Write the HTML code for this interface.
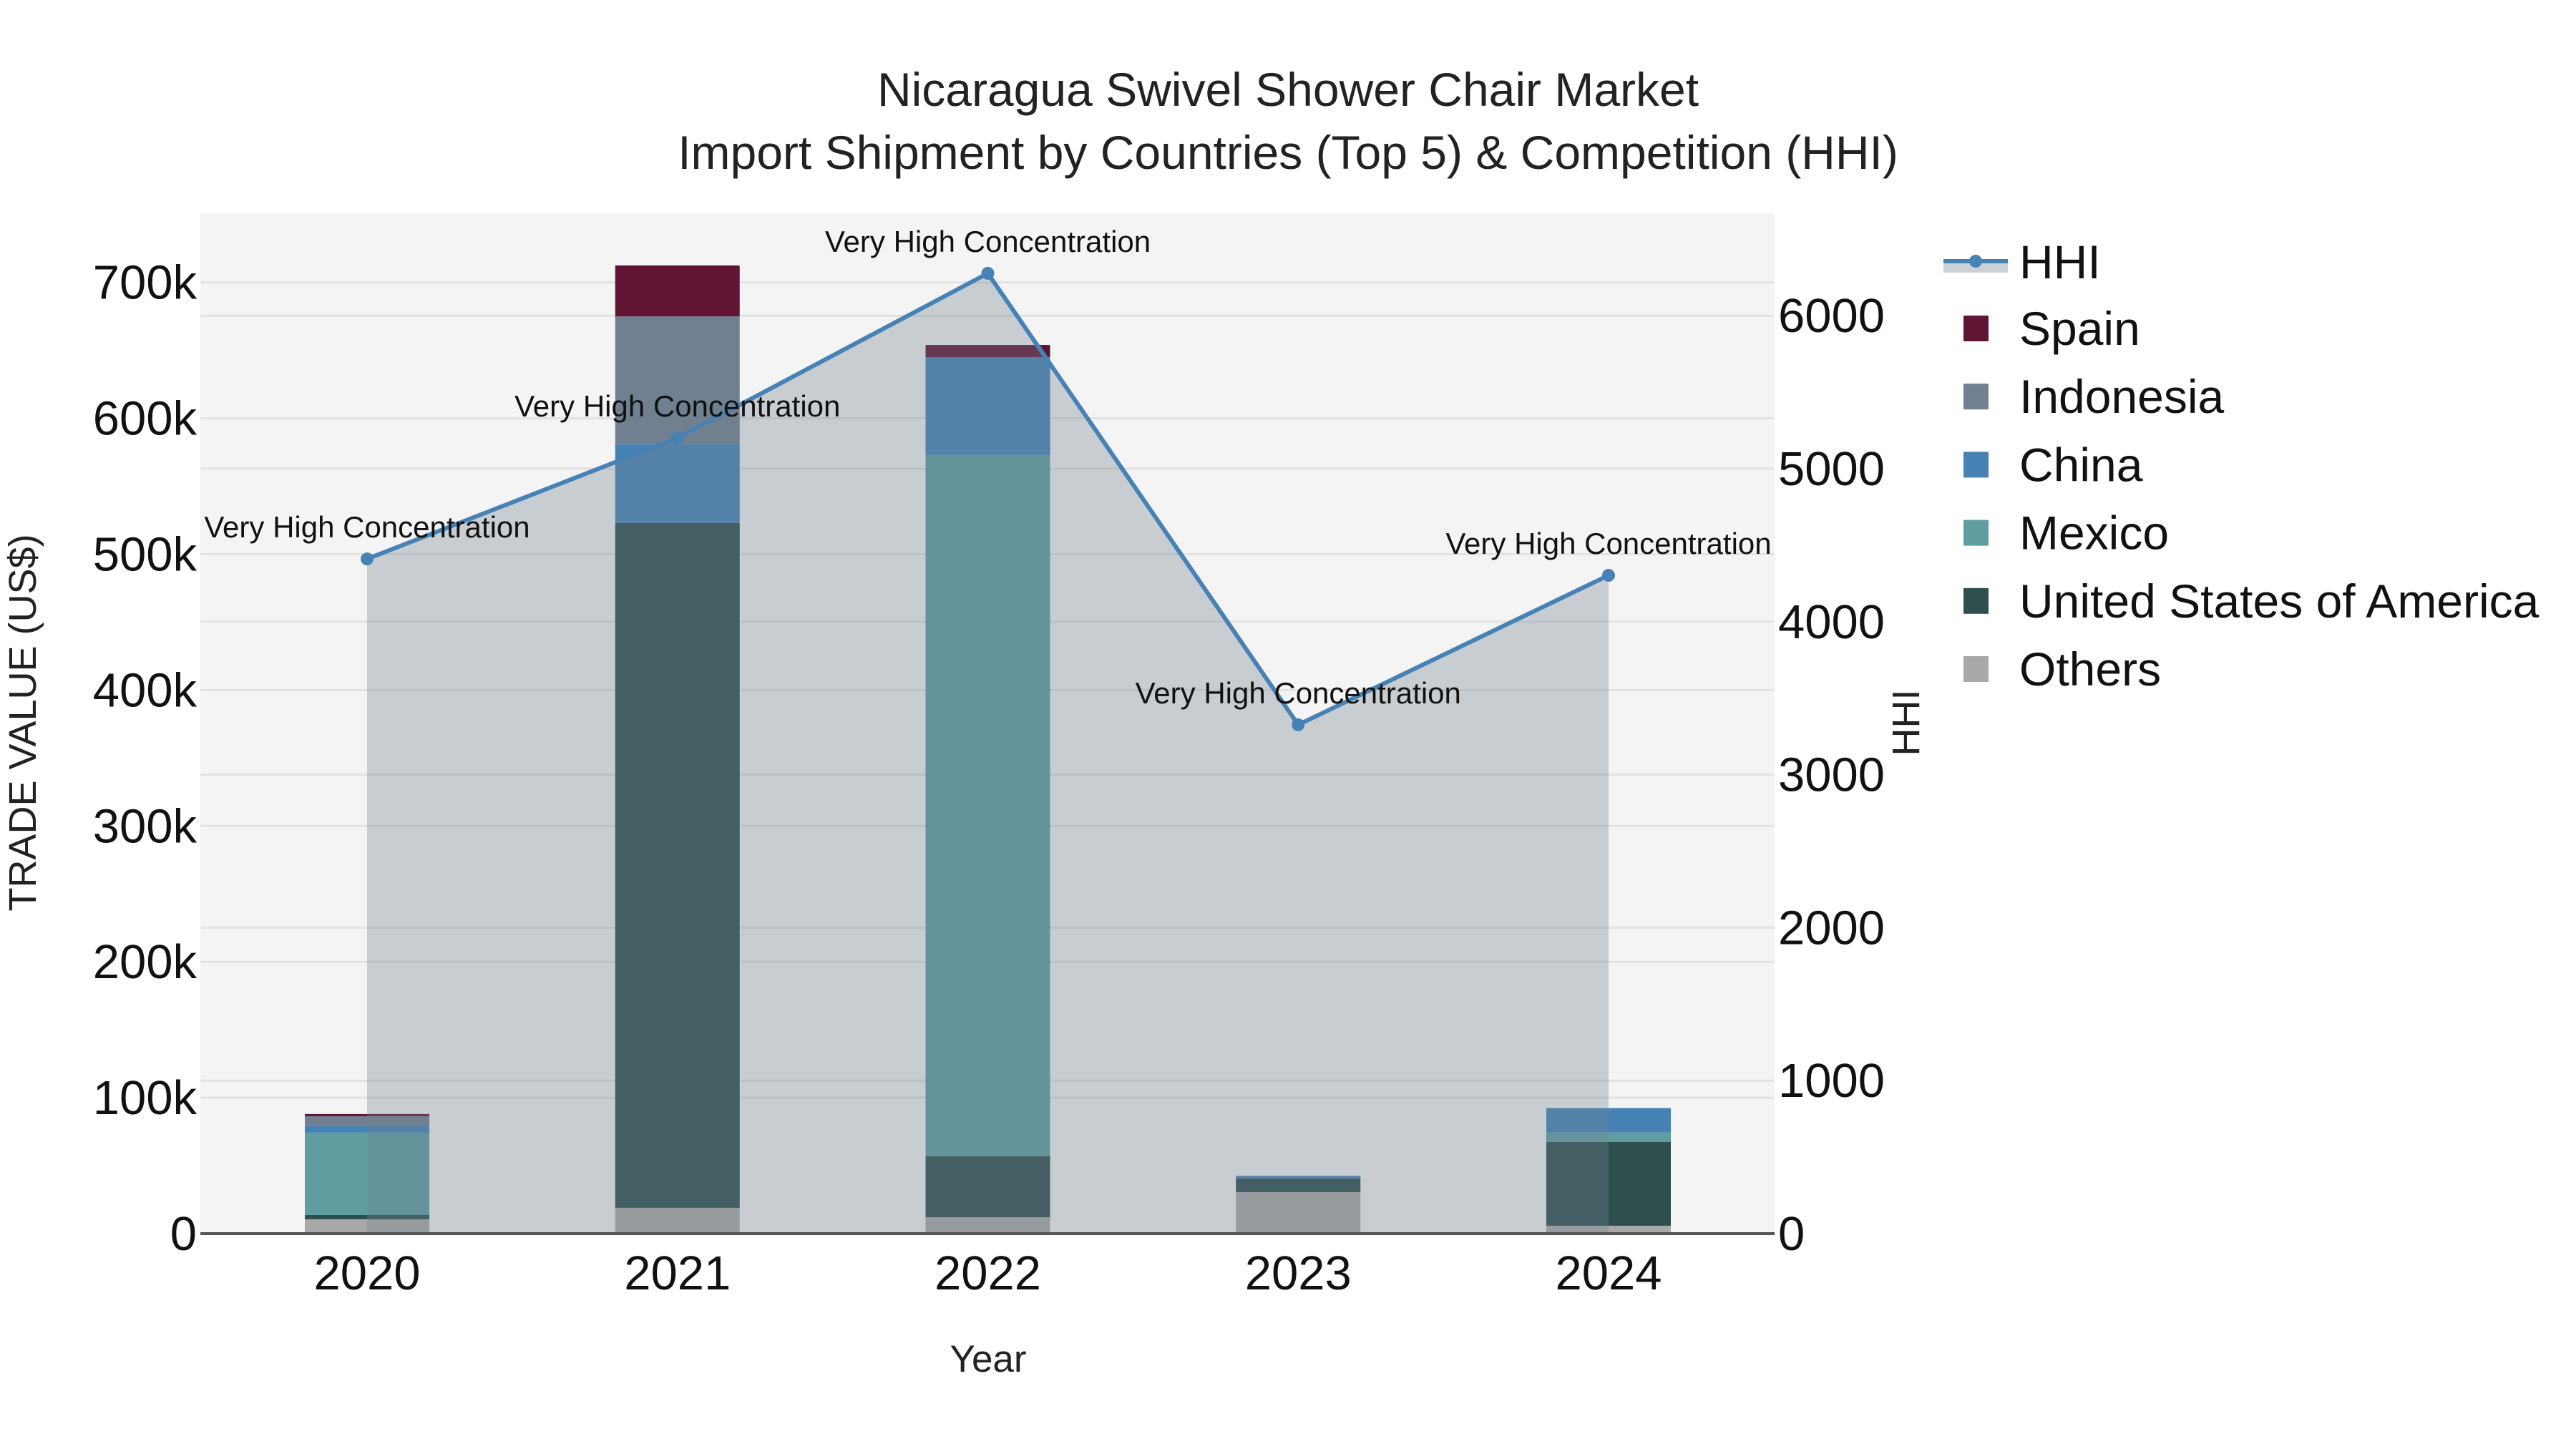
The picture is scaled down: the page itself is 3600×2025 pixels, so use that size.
<!DOCTYPE html>
<html><head><meta charset="utf-8"><style>
html,body{margin:0;padding:0;background:#fff;}
svg{display:block;font-family:"Liberation Sans",sans-serif;}
</style></head><body>
<svg id="chart" width="3600" height="2025" viewBox="0 0 3600 2025">
<g id="bg"></g><g id="grid"></g><g id="bars"></g><g id="area"></g><g id="axes"></g><g id="labels"></g><g id="legend"></g>
</svg>
<script>
const years = ['2020','2021','2022','2023','2024'];
const seriesNames = ['Others','United States of America','Mexico','China','Indonesia','Spain'];
const others = [10.5, 19, 12, 30.5, 5.8];
const usa = [3.2, 504, 45, 10, 61.6];
const mexico = [60.6, 0, 516, 0, 7];
const china = [5.3, 58, 72, 2, 18];
const indonesia = [6.8, 94, 0, 0, 0];
const spain = [1.6, 37.5, 9, 0, 0];
const hhi = [4410, 5201, 6277, 3326, 4303];
const hhiLabels = ['Very High Concentration','Very High Concentration','Very High Concentration','Very High Concentration','Very High Concentration'];
const leftTicks = [0,100,200,300,400,500,600,700];
const rightTicks = [0,1000,2000,3000,4000,5000,6000];

const colors = {'Others':'#a9a9a9','United States of America':'#2f4f4f','Mexico':'#5f9ea0','China':'#4682b4','Indonesia':'#708090','Spain':'#611535'};
const seriesData = [others, usa, mexico, china, indonesia, spain];
const NS='http://www.w3.org/2000/svg';
const PL=280, PR=2480, PT=298, PB=1724;
const x0=513, xStep=433.75, barW=174;
const xOf = i => x0 + i*xStep;
const yL = v => PB - v*189.9/100;
const yR = v => PB - v*213.8/1000;
function el(tag, attrs, parent, text){const e=document.createElementNS(NS,tag);for(const k in attrs)e.setAttribute(k,attrs[k]);if(text!==undefined)e.textContent=text;parent.appendChild(e);return e;}
const G=id=>document.getElementById(id);

const plotBg = el('rect',{x:PL,y:PT,width:PR-PL,height:PB-PT,fill:'#f4f4f4'},G('bg'));



leftTicks.forEach(t=>{
  const l=el('line',{x1:PL,x2:PR,y1:yL(t),y2:yL(t),stroke:'#e2e2e2','stroke-width':3},G('grid'));
  
  
  const tx=el('text',{x:275,y:yL(t)+23,'text-anchor':'end','font-size':67,fill:'#111'},G('labels'),t===0?'0':t+'k');
  
  
});
rightTicks.forEach(t=>{
  const l=el('line',{x1:PL,x2:PR,y1:yR(t),y2:yR(t),stroke:'#e2e2e2','stroke-width':3},G('grid'));
  
  
  const tx=el('text',{x:2485,y:yR(t)+23,'text-anchor':'start','font-size':67,fill:'#111'},G('labels'),String(t));
  
  
});

years.forEach((yr,i)=>{
  let cum=0;
  seriesData.forEach((arr,s)=>{
    const v=arr[i]; if(v<=0) return;
    const r=el('rect',{x:xOf(i)-barW/2,y:yL(cum+v),width:barW,height:yL(cum)-yL(cum+v),fill:colors[seriesNames[s]]},G('bars'));
    
    
    cum+=v;
  });
  const tx=el('text',{x:xOf(i),y:1802,'text-anchor':'middle','font-size':67,fill:'#111'},G('labels'),yr);
  
  
});

let d='M'+xOf(0)+','+PB;
hhi.forEach((v,i)=>{d+=' L'+xOf(i)+','+yR(v);});
d+=' L'+xOf(hhi.length-1)+','+PB+' Z';
const area=el('path',{d:d,fill:'rgba(112,128,144,0.33)'},G('area'));


const line=el('polyline',{points:hhi.map((v,i)=>xOf(i)+','+yR(v)).join(' '),fill:'none',stroke:'#4682b4','stroke-width':6},G('area'));


hhi.forEach((v,i)=>{
  const c=el('circle',{cx:xOf(i),cy:yR(v),r:9,fill:'#4682b4'},G('area'));
  
  
  const t=el('text',{x:xOf(i),y:yR(v)-30,'text-anchor':'middle','font-size':42,fill:'#111'},G('labels'),hhiLabels[i]);
  
  
});

const ax=el('line',{x1:PL,x2:PR,y1:PB,y2:PB,stroke:'#555','stroke-width':4},G('axes'));



const t1=el('text',{x:1800,y:148,'text-anchor':'middle','font-size':66,fill:'#222'},G('labels'),'Nicaragua Swivel Shower Chair Market');


const t2=el('text',{x:1800,y:236,'text-anchor':'middle','font-size':66,fill:'#222'},G('labels'),'Import Shipment by Countries (Top 5) & Competition (HHI)');


const xt=el('text',{x:1381,y:1917,'text-anchor':'middle','font-size':53,fill:'#222'},G('labels'),'Year');


const ylt=el('text',{x:0,y:0,'text-anchor':'middle','font-size':54,fill:'#222',transform:'translate(50,1010) rotate(-90)'},G('labels'),'TRADE VALUE (US$)');


const yrt=el('text',{x:0,y:0,'text-anchor':'middle','font-size':54,fill:'#222',transform:'translate(2682,1010) rotate(-90)'},G('labels'),'HHI');



const lg=G('legend');
const hl=el('g',{},lg);


el('rect',{x:2716,y:365,width:90,height:16,fill:'#ccd1d8'},hl);
el('line',{x1:2716,x2:2806,y1:365,y2:365,stroke:'#4682b4','stroke-width':6},hl);
el('circle',{cx:2761,cy:365,r:9,fill:'#4682b4'},hl);
el('text',{x:2822,y:389,'font-size':66,fill:'#111'},hl,'HHI');
const legendOrder=['Spain','Indonesia','China','Mexico','United States of America','Others'];
legendOrder.forEach((n,k)=>{
  const cy=459+k*95.2;
  const g=el('g',{},lg);
  
  
  el('rect',{x:2744,y:cy-18,width:35,height:36,fill:colors[n]},g);
  el('text',{x:2822,y:cy+23,'font-size':66,fill:'#111'},g,n);
});
</script>
</body></html>
